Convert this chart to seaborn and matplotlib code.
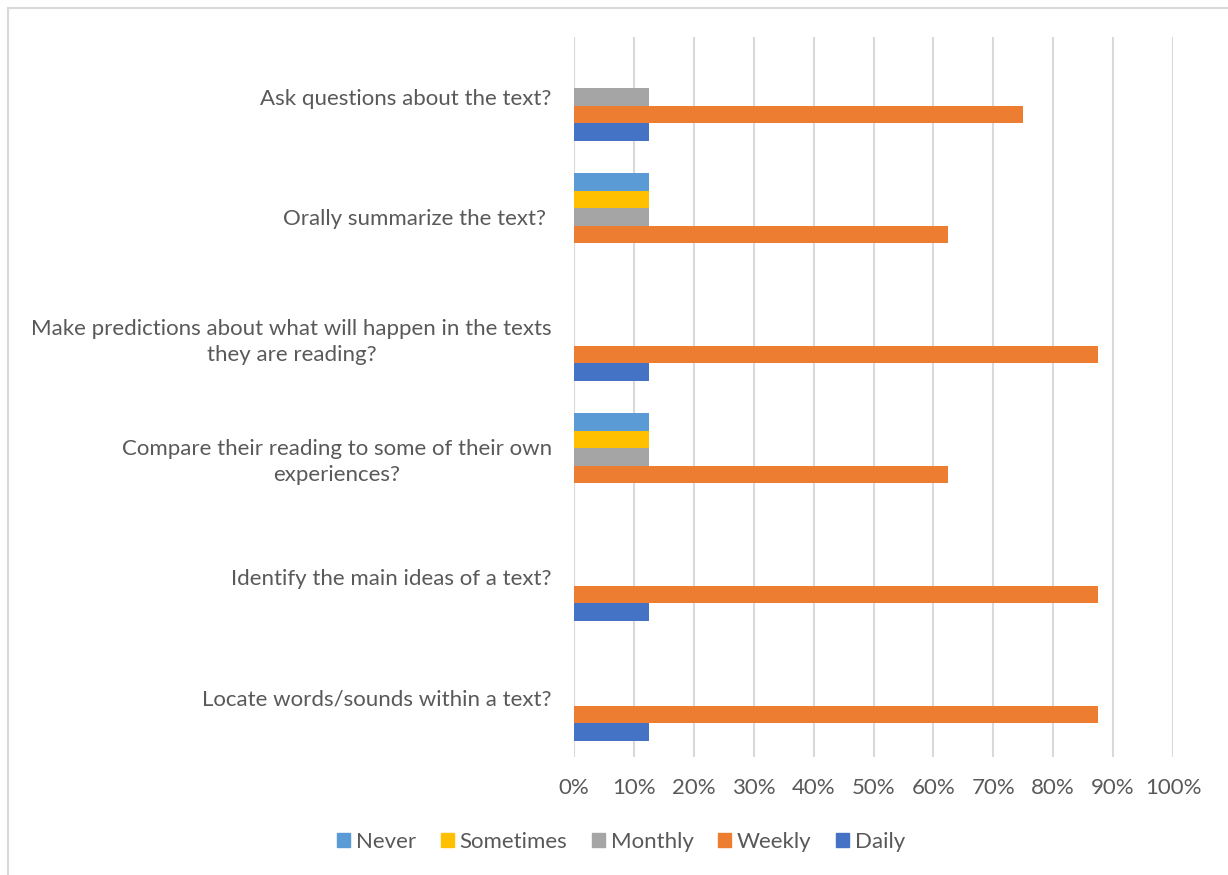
import matplotlib
matplotlib.use("Agg")
import matplotlib.pyplot as plt
import matplotlib.patches as mpatches
from matplotlib.ticker import PercentFormatter
import numpy as np
import pandas as pd
import seaborn as sns

# Reading-comprehension activities and how often students do them
activities = [
    "Ask questions about the text?",
    "Orally summarize the text? ",
    "Make predictions about what will happen in the texts\nthey are reading?",
    "Compare their reading to some of their own\nexperiences?",
    "Identify the main ideas of a text?",
    "Locate words/sounds within a text?",
]
frequencies = ["Never", "Sometimes", "Monthly", "Weekly", "Daily"]

never = [0.0, 0.125, 0.0, 0.125, 0.0, 0.0]
sometimes = [0.0, 0.125, 0.0, 0.125, 0.0, 0.0]
monthly = [0.125, 0.125, 0.0, 0.125, 0.0, 0.0]
weekly = [0.75, 0.625, 0.875, 0.625, 0.875, 0.875]
daily = [0.125, 0.0, 0.125, 0.0, 0.125, 0.125]

colors = ["#5B9BD5", "#FFC000", "#A5A5A5", "#ED7D31", "#4472C4"]
text_color = "#595959"
grid_color = "#D9D9D9"

rows = []
for freq, vals in zip(frequencies, [never, sometimes, monthly, weekly, daily]):
    for act, v in zip(activities, vals):
        rows.append({"activity": act, "frequency": freq, "share": v})
df = pd.DataFrame(rows)

sns.set_theme(style="white")
plt.rcParams["font.family"] = ["Lato", "DejaVu Sans"]

fig = plt.figure(figsize=(12.28, 8.75), dpi=100)
ax = fig.add_axes([574 / 1228, 1 - 757 / 875, (1173 - 574) / 1228, (757 - 37) / 875])

sns.barplot(
    data=df, y="activity", x="share", hue="frequency",
    order=activities, hue_order=frequencies, palette=colors,
    orient="h", width=0.73, gap=0, linewidth=0, saturation=1,
    errorbar=None, ax=ax, legend=False,
)

ax.set_xlim(0, 1)
ax.set_xticks(np.linspace(0, 1, 11))
ax.xaxis.set_major_formatter(PercentFormatter(1.0, decimals=0))
ax.grid(axis="x", color=grid_color, linewidth=1.5)
ax.set_axisbelow(True)
for s in ax.spines.values():
    s.set_visible(False)
ax.set_xlabel("")
ax.set_ylabel("")
ax.tick_params(axis="x", length=0, pad=15, labelsize=16, labelcolor=text_color)
ax.tick_params(axis="y", length=0, pad=16, labelsize=16, labelcolor=text_color)
for lbl in ax.get_yticklabels():
    lbl.set_multialignment("center")
    lbl.set_linespacing(1.4)

handles = [mpatches.Patch(color=c, label=f) for c, f in zip(colors, frequencies)]
fig.legend(
    handles=handles, loc="center", bbox_to_anchor=(621 / 1228, 1 - 842 / 875),
    ncol=5, frameon=False, fontsize=16, labelcolor=text_color,
    handlelength=0.6, handleheight=0.6, handletextpad=0.25, columnspacing=1.1,
)

# Chart frame
fig.add_artist(mpatches.Rectangle(
    (8 / 1228, -0.1), 1.2, 1.1 - 8 / 875, transform=fig.transFigure,
    fill=False, edgecolor=grid_color, linewidth=1.5,
))

fig.savefig("out.png", dpi=100)
